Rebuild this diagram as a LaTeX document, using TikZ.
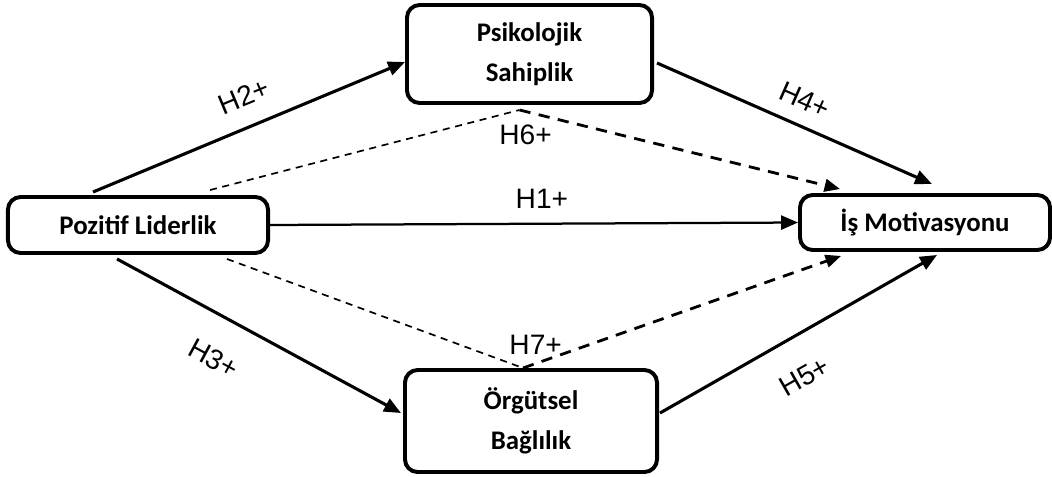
\documentclass[tikz,border=0pt]{standalone}
\usepackage{fontspec}
\setmainfont{Carlito}
\newfontfamily\hfont{Liberation Sans}
\usetikzlibrary{arrows.meta}

\tikzset{
  box/.style={draw, line width=2.8pt, rounded corners=9pt, align=center, inner sep=0pt,
    font=\bfseries\fontsize{19.1}{28}\selectfont},
  hyp/.style={line width=2.2pt, -{Triangle[length=12pt,width=10pt]}},
  ind/.style={line width=1.2pt, dash pattern=on 5pt off 4pt},
  indarr/.style={line width=2pt, dash pattern=on 8pt off 6pt, -{Triangle[length=11pt,width=9pt]}},
  lbl/.style={font=\hfont\fontsize{20}{24}\selectfont},
}

\begin{document}
\begin{tikzpicture}[x=0.025cm, y=-0.025cm]
        \useasboundingbox (0,0) rectangle (1052,476);

        \node[box, minimum width=6.5cm, minimum height=1.4cm] (pl) at (138,225) {Pozitif Liderlik};
        \node[box, minimum width=6.125cm, minimum height=2.45cm] (ps) at (529.5,54) {\raisebox{-4pt}{Psikolojik}\\\raisebox{-4pt}{Sahiplik}};
        \node[box, minimum width=6.3cm, minimum height=2.55cm] (og) at (531,421) {Örgütsel\\Bağlılık};
        \node[box, minimum width=6.25cm, minimum height=1.375cm] (im) at (925,222.5) {İş Motivasyonu};

        % indirect paths
        \coordinate (a6) at ([shift={(-10,5)}]ps.south);
        \coordinate (a7) at ([shift={(-8,0)}]og.north);
        \draw[ind] ([shift={(72,-5)}]pl.north) -- (a6);
        \draw[indarr] (a6) node[lbl, below=6pt, xshift=4.3pt] {H6+} -- ([shift={(42,-4)}]im.north west);
        \draw[ind] ([shift={(89,4)}]pl.south) -- (a7);
        \draw[indarr] (a7) node[lbl, above=5pt, xshift=9pt] {H7+} -- ([shift={(43,4)}]im.south west);

        % direct paths
        \draw[hyp] ([shift={(-45,-3)}]pl.north) -- node[lbl, sloped, above=10pt, pos=0.52] {H2+} ([shift={(0,8)}]ps.west);
        \draw[hyp] ([shift={(3,9)}]ps.east) -- node[lbl, sloped, above=7pt, pos=0.5] {H4+} ([shift={(7,-9)}]im.north);
        \draw[hyp] ([shift={(-21,4)}]pl.south) -- node[lbl, sloped, below=18pt, pos=0.41] {H3+} ([shift={(-2,-8)}]og.west);
        \draw[hyp] ([shift={(1,-8)}]og.east) -- node[lbl, sloped, below=17pt, pos=0.45] {H5+} ([shift={(12,3)}]im.south);
        \draw[hyp, line width=1.6pt] (pl.east) -- node[lbl, above=7pt, pos=0.515] {H1+} (im.west);

\end{tikzpicture}
\end{document}
